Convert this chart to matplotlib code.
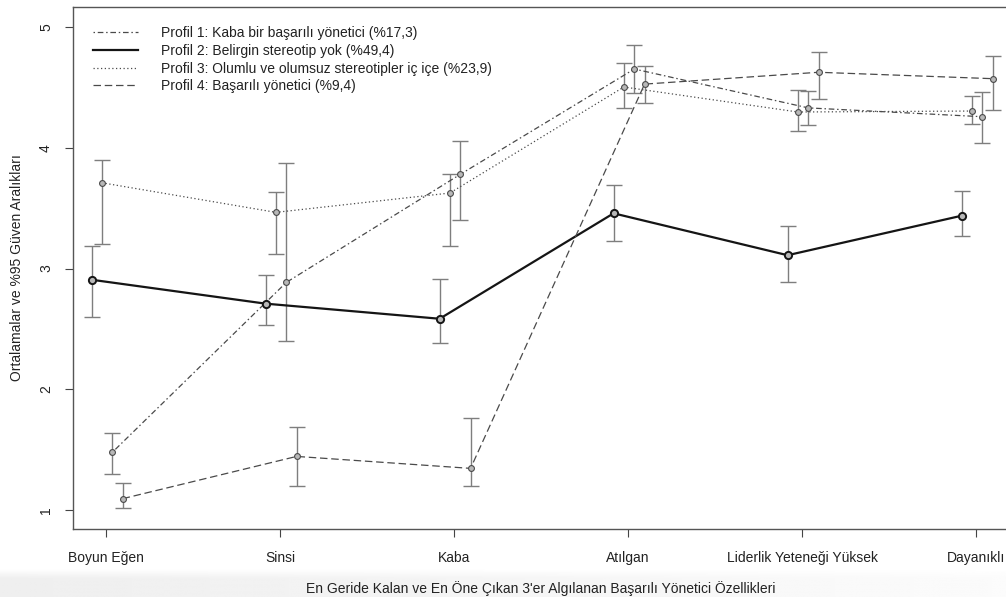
import matplotlib
matplotlib.use("Agg")
import matplotlib.pyplot as plt
import numpy as np

plt.rcParams['font.family'] = ['Liberation Sans', 'DejaVu Sans']

categories = ["Boyun Eğen", "Sinsi", "Kaba", "Atılgan", "Liderlik Yeteneği Yüksek", "Dayanıklı"]
labels = ["Profil 1: Kaba bir başarılı yönetici (%17,3)",
          "Profil 2: Belirgin stereotip yok (%49,4)",
          "Profil 3: Olumlu ve olumsuz stereotipler iç içe (%23,9)",
          "Profil 4: Başarılı yönetici (%9,4)"]

p1_mean = [1.478, 2.885, 3.78, 4.652, 4.33, 4.257]
p1_lo   = [1.30, 2.40, 3.40, 4.45, 4.19, 4.04]
p1_hi   = [1.64, 3.87, 4.056, 4.85, 4.473, 4.46]

p2_mean = [2.907, 2.709, 2.584, 3.457, 3.11, 3.437]
p2_lo   = [2.60, 2.53, 2.386, 3.23, 2.89, 3.27]
p2_hi   = [3.19, 2.944, 2.91, 3.69, 3.35, 3.64]

p3_mean = [3.71, 3.465, 3.625, 4.503, 4.296, 4.304]
p3_lo   = [3.20, 3.12, 3.19, 4.327, 4.14, 4.197]
p3_hi   = [3.90, 3.636, 3.785, 4.70, 4.478, 4.43]

p4_mean = [1.094, 1.444, 1.345, 4.527, 4.625, 4.572]
p4_lo   = [1.02, 1.20, 1.20, 4.37, 4.40, 4.31]
p4_hi   = [1.22, 1.69, 1.765, 4.68, 4.79, 4.76]

yticks = [1, 2, 3, 4, 5]
xlabel = "En Geride Kalan ve En Öne Çıkan 3'er Algılanan Başarılı Yönetici Özellikleri"
ylabel = "Ortalamalar ve %95 Güven Aralıkları"

W, H = 1006, 597
FS = 10
fig = plt.figure(figsize=(W / 100, H / 100), dpi=100)

# faint gray band at the bottom (screenshot background)
band = fig.add_axes([0, 0, 1, 28 / H], zorder=-5)
gx = np.linspace(0.935, 0.985, 256)[None, :]
gy = np.linspace(0.0, 1.0, 64)[:, None]
grad = gx * np.ones_like(gy)
top_soft = np.clip((1 - gy[::-1]) * 3, 0, 1)
grad = 1.0 - (1.0 - grad) * top_soft
band.imshow(grad, cmap='gray', vmin=0, vmax=1, aspect='auto', extent=[0, 1, 0, 1], origin='upper')
band.axis('off')

ax_l, ax_r, ax_t, ax_b = 72.5, 1009.6, 7.3, 529
ax = fig.add_axes([ax_l / W, (H - ax_b) / H, (ax_r - ax_l) / W, (ax_b - ax_t) / H])
ax.patch.set_alpha(0)

x = np.arange(len(categories))
series = [
    (p1_mean, p1_lo, p1_hi, 0.036, dict(color='#4a4a4a', lw=0.9, dashes=(1.2, 2.2, 4.5, 2.2)), 4.2, 0.8),
    (p2_mean, p2_lo, p2_hi, -0.083, dict(color='#151515', lw=1.6, linestyle='-'), 5.2, 1.4),
    (p3_mean, p3_lo, p3_hi, -0.024, dict(color='#4a4a4a', lw=0.9, dashes=(1.0, 2.0)), 4.2, 0.8),
    (p4_mean, p4_lo, p4_hi, 0.095, dict(color='#4a4a4a', lw=0.9, dashes=(6.0, 3.0)), 4.2, 0.8),
]

handles = []
for (m, lo, hi, off, style, ms, mew), lab in zip(series, labels):
    xx = x + off
    m = np.array(m); lo = np.array(lo); hi = np.array(hi)
    ax.errorbar(xx, m, yerr=[m - lo, hi - m], fmt='none', ecolor='#7e7e7e',
                elinewidth=1.0, capsize=5.9, capthick=1.0, zorder=2)
    ln, = ax.plot(xx, m, zorder=3, **style)
    ax.plot(xx, m, 'o', ms=ms, mfc='#b8b8b8', mec=style['color'], mew=mew, zorder=4)
    handles.append(ln)

ax.set_xlim(-0.193, 5.193)
ax.set_ylim(0.843, 5.163)
ax.set_xticks(x)
ax.set_xticklabels(categories, fontsize=FS, color='#222222')
ax.set_yticks(yticks)
ax.set_yticklabels([str(v) for v in yticks], fontsize=FS, color='#222222', rotation=90, va='center')
ax.tick_params(axis='both', direction='out', length=6, width=0.8, color='#444444')
ax.tick_params(axis='x', pad=10)
ax.tick_params(axis='y', pad=8)
for s in ['left', 'bottom', 'top', 'right']:
    ax.spines[s].set_color('#555555')
    ax.spines[s].set_linewidth(1.0)

fig.text((ax_l + ax_r) / 2 / W, (H - 589) / H, xlabel, ha='center', va='center',
         fontsize=FS, color='#222222')
fig.text(17 / W, (H - 268) / H, ylabel, ha='center', va='center', rotation=90,
         fontsize=FS, color='#222222')

leg = ax.legend(handles, labels, loc='upper left', bbox_to_anchor=(93 / W, (H - 26) / H),
                bbox_transform=fig.transFigure, frameon=False, fontsize=FS,
                handlelength=3.25, handletextpad=1.65, labelspacing=0.27,
                borderpad=0, borderaxespad=0)
for t in leg.get_texts():
    t.set_color('#222222')

fig.savefig('out.png', dpi=100)
